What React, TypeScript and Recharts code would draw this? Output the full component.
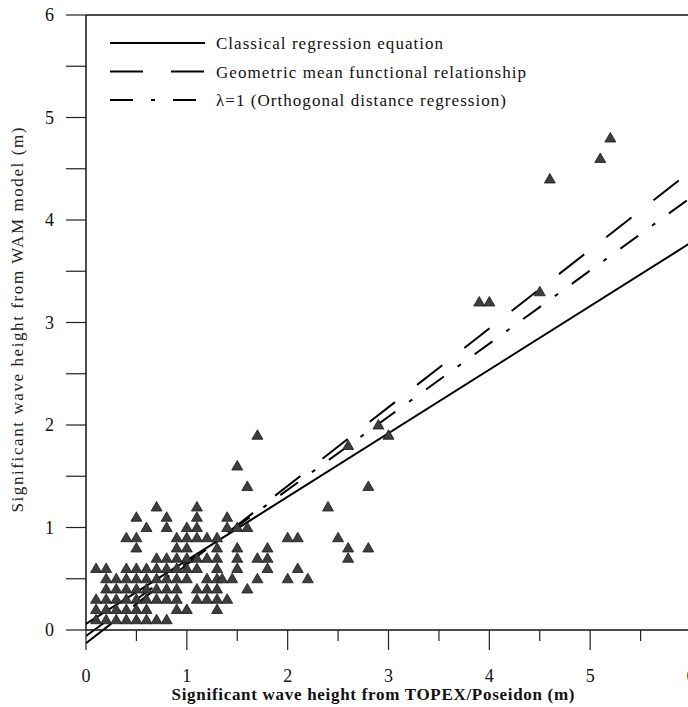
import React from 'react';
import { ScatterChart, Scatter, XAxis, YAxis, ReferenceLine } from 'recharts';

// tick values (labels only on whole metres)
const AXIS_TICKS = [0, 0.5, 1, 1.5, 2, 2.5, 3, 3.5, 4, 4.5, 5, 5.5, 6];

// WAM heights (m) of each row of observations
const wamLevels = [0.1, 0.2, 0.3, 0.4, 0.5, 0.6, 0.7, 0.8, 0.9, 1.0, 1.1, 1.2, 1.4, 1.6, 1.8, 1.9, 2.0, 3.2, 3.3, 4.4, 4.6, 4.8];

// TOPEX/Poseidon heights (m) observed at each WAM level above
const topexAtLevel = [
    [0.1, 0.2, 0.3, 0.4, 0.5, 0.6, 0.7, 0.8],
    [0.1, 0.2, 0.3, 0.4, 0.5, 0.6, 0.9, 1.0, 1.3],
    [0.1, 0.2, 0.3, 0.4, 0.5, 0.6, 0.7, 0.8, 0.9, 1.1, 1.2, 1.3, 1.4],
    [0.2, 0.3, 0.4, 0.5, 0.6, 0.7, 0.8, 0.9, 1.1, 1.2, 1.3, 1.6],
    [0.2, 0.3, 0.4, 0.5, 0.6, 0.7, 0.8, 0.9, 1.0, 1.2, 1.3, 1.35, 1.45, 1.7, 2.0, 2.2],
    [0.1, 0.2, 0.4, 0.5, 0.6, 0.7, 0.8, 0.9, 1.0, 1.1, 1.3, 1.5, 1.8, 2.1],
    [0.7, 0.8, 0.9, 1.0, 1.1, 1.2, 1.3, 1.5, 1.7, 1.8, 2.6],
    [0.5, 0.9, 1.0, 1.3, 1.5, 1.8, 2.6, 2.8],
    [0.4, 0.5, 0.9, 1.0, 1.1, 1.2, 1.3, 2.0, 2.1, 2.5],
    [0.6, 0.8, 1.0, 1.1, 1.4, 1.5, 1.6],
    [0.5, 0.8, 1.1, 1.4],
    [0.7, 1.1, 2.4],
    [1.6, 2.8],
    [1.5],
    [2.6],
    [1.7, 3.0],
    [2.9],
    [3.9, 4.0],
    [4.5],
    [4.6],
    [5.1],
    [5.2],
];

// fitted lines  y = a + b x
const fitNames = [
    'Classical regression equation',
    'Geometric mean functional relationship',
    'λ=1 (Orthogonal distance regression)',
];
const fitIntercepts = [0.06, -0.13, -0.058];
const fitSlopes = [0.62, 0.768, 0.713];

const FIT_DASH = ['', '32 28', '22 17 4 17'];
const LEGEND_DASH = ['', '33 28', '23 18 4 18'];
const LEGEND_TEXT_LEN = [227, 310, 290];

const FONT = 'Liberation Serif, Times New Roman, DejaVu Serif, serif';

const points = wamLevels.flatMap((wam, i) =>
    topexAtLevel[i].map((topex) => ({ x: topex, y: wam }))
);

const Triangle = (props: any) => {
    const { cx, cy } = props;
    if (cx == null || cy == null) return null;
    return (
        <path
            d={`M${cx},${cy - 5.5} L${cx + 5.5},${cy + 4} L${cx - 5.5},${cy + 4} Z`}
            fill="#3e3e3e"
            stroke="#1c1c1c"
            strokeWidth={0.8}
        />
    );
};

const XTick = (props: any) => {
    const { x, y, payload } = props;
    const whole = Number.isInteger(payload.value);
    return (
        <g>
            <line x1={x} y1={y} x2={x} y2={y + (whole ? 20 : 11)} stroke="#222" strokeWidth={1.2} />
            {whole && (
                <text x={x} y={y + 52} textAnchor="middle" style={{ fontFamily: FONT }} fontSize={18} fill="#111">
                    {payload.value}
                </text>
            )}
        </g>
    );
};

const YTick = (props: any) => {
    const { x, y, payload } = props;
    const whole = Number.isInteger(payload.value);
    return (
        <g>
            <line x1={x - 20} y1={y} x2={x} y2={y} stroke="#222" strokeWidth={1.2} />
            {whole && (
                <text x={x - 32} y={y + 6} textAnchor="end" style={{ fontFamily: FONT }} fontSize={18} fill="#111">
                    {payload.value}
                </text>
            )}
        </g>
    );
};

function FitLegend() {
    return (
        <svg
            width={480}
            height={90}
            style={{ position: 'absolute', left: 100, top: 28 }}
        >
            {fitNames.map((name, i) => {
                const cy = 15 + i * 28.5;
                return (
                    <g key={name}>
                        <line
                            x1={10}
                            x2={105}
                            y1={cy}
                            y2={cy}
                            stroke="#000"
                            strokeWidth={2}
                            strokeDasharray={LEGEND_DASH[i] || undefined}
                        />
                        <text
                            x={116}
                            y={cy + 6}
                            style={{ fontFamily: FONT }}
                            fontSize={17}
                            fill="#111"
                            textLength={LEGEND_TEXT_LEN[i]}
                            lengthAdjust="spacing"
                        >
                            {name}
                        </text>
                    </g>
                );
            })}
        </svg>
    );
}

export default function App() {
    return (
        <div
            style={{
                position: 'absolute',
                left: 0,
                top: 0,
                width: 688,
                height: 707,
                overflow: 'hidden',
                background: '#fff',
                fontFamily: FONT,
            }}
        >
            <ScatterChart width={720} height={707} margin={{ top: 15, right: 29, bottom: 0, left: 0 }}>
                <XAxis
                    type="number"
                    dataKey="x"
                    domain={[0, 6]}
                    ticks={AXIS_TICKS}
                    interval={0}
                    tickLine={false}
                    tickSize={0}
                    tickMargin={0}
                    height={77}
                    axisLine={{ stroke: '#111', strokeWidth: 1.5 }}
                    tick={XTick}
                    label={{
                        content: () => (
                            <text
                                x={373}
                                y={700}
                                textAnchor="middle"
                                style={{ fontFamily: FONT }}
                                fontSize={17}
                                fontWeight="bold"
                                fill="#111"
                                textLength={403}
                                lengthAdjust="spacing"
                            >
                                Significant wave height from TOPEX/Poseidon (m)
                            </text>
                        ),
                    }}
                />
                <YAxis
                    type="number"
                    dataKey="y"
                    domain={[0, 6]}
                    ticks={AXIS_TICKS}
                    interval={0}
                    tickLine={false}
                    tickSize={0}
                    tickMargin={0}
                    width={86}
                    axisLine={{ stroke: '#111', strokeWidth: 1.5 }}
                    tick={YTick}
                    label={{
                        content: () => (
                            <text
                                x={0}
                                y={0}
                                transform="translate(23, 320) rotate(-90)"
                                textAnchor="middle"
                                style={{ fontFamily: FONT }}
                                fontSize={17}
                                fill="#222"
                                textLength={385}
                                lengthAdjust="spacing"
                            >
                                Significant wave height from WAM model (m)
                            </text>
                        ),
                    }}
                />
                <ReferenceLine y={6} stroke="#111" strokeWidth={1.5} />
                <ReferenceLine x={6} stroke="#111" strokeWidth={1.5} />
                {fitNames.map((name, i) => (
                    <ReferenceLine
                        key={name}
                        ifOverflow="visible"
                        segment={[
                            { x: 0, y: fitIntercepts[i] },
                            { x: 6, y: fitIntercepts[i] + 6 * fitSlopes[i] },
                        ]}
                        stroke="#000"
                        strokeWidth={2}
                        strokeDasharray={FIT_DASH[i] || undefined}
                    />
                ))}
                <Scatter data={points} shape={Triangle} isAnimationActive={false} />
            </ScatterChart>
            <FitLegend />
        </div>
    );
}
